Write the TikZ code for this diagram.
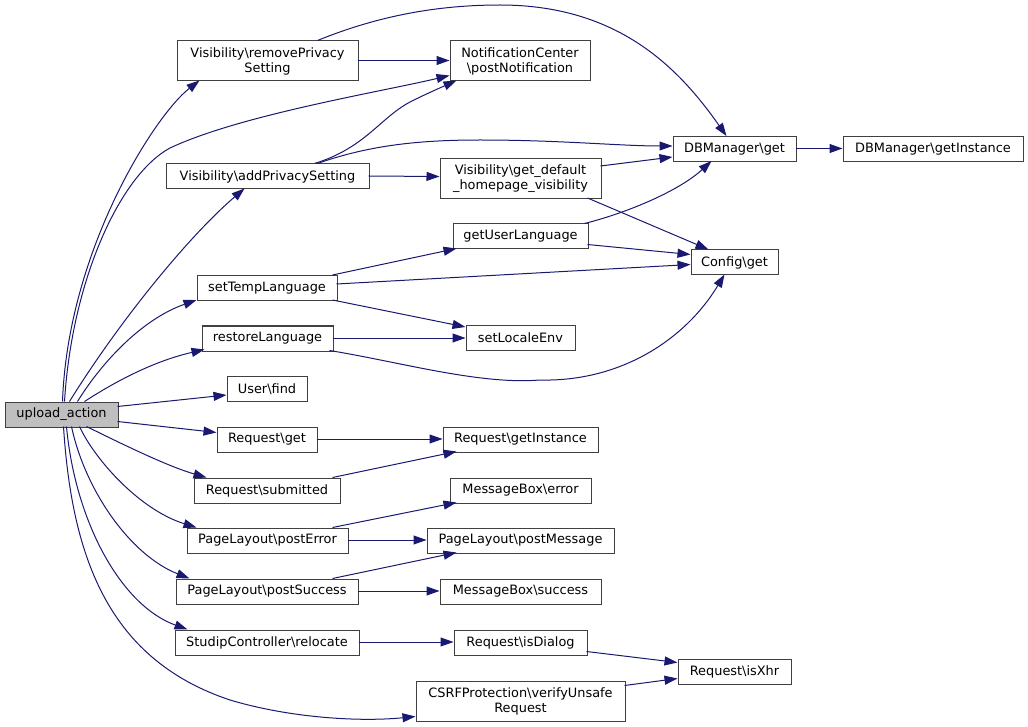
\documentclass[tikz,border=0pt]{standalone}
\usepackage{fontspec}
\setmainfont{DejaVu Sans}
\usetikzlibrary{arrows.meta}
\definecolor{edgec}{HTML}{191970}
\definecolor{boxc}{HTML}{404040}
\definecolor{mainfill}{HTML}{BFBFBF}
\tikzset{
  box/.style={draw=boxc, line width=1pt, fill=white, inner sep=0pt, align=center,
    font=\fontsize{12.9}{15}\selectfont},
  edge/.style={draw=edgec, line width=1pt, -{Triangle[length=13pt,width=9pt]}}
}
\newcommand{\bs}{\textbackslash}
\begin{document}
\begin{tikzpicture}[x=1pt,y=-1pt]
\useasboundingbox (0,0) rectangle (1028,727);
% nodes
\node[box, fill=mainfill, minimum width=113pt, minimum height=25pt] (ua) at (61.5,414.5) {upload\_action};
\node[box, minimum width=181pt, minimum height=40pt] (rps) at (267.5,61) {Visibility\bs removePrivacy\\Setting};
\node[box, minimum width=203pt, minimum height=25pt] (aps) at (267.5,176.5) {Visibility\bs addPrivacySetting};
\node[box, minimum width=140pt, minimum height=40pt] (pn) at (520,61) {NotificationCenter\\\bs postNotification};
\node[box, minimum width=123pt, minimum height=25pt] (dbg) at (734.5,149) {DBManager\bs get};
\node[box, minimum width=180pt, minimum height=25pt] (dbgi) at (933,149) {DBManager\bs getInstance};
\node[box, minimum width=161pt, minimum height=40pt] (gdh) at (520.5,178.5) {Visibility\bs get\_default\\\_homepage\_visibility};
\node[box, minimum width=135pt, minimum height=25pt] (gul) at (520.5,236.5) {getUserLanguage};
\node[box, minimum width=87pt, minimum height=25pt] (cfg) at (734.5,262.5) {Config\bs get};
\node[box, minimum width=140pt, minimum height=25pt] (stl) at (267,288) {setTempLanguage};
\node[box, minimum width=131pt, minimum height=25pt] (rl) at (267.5,338.5) {restoreLanguage};
\node[box, minimum width=80pt, minimum height=25pt] (uf) at (267,389) {User\bs find};
\node[box, minimum width=100pt, minimum height=25pt] (rg) at (267,439.5) {Request\bs get};
\node[box, minimum width=146pt, minimum height=25pt] (rs) at (267,490.5) {Request\bs submitted};
\node[box, minimum width=109pt, minimum height=25pt] (sle) at (520.5,338) {setLocaleEnv};
\node[box, minimum width=155pt, minimum height=25pt] (rgi) at (520.5,439.5) {Request\bs getInstance};
\node[box, minimum width=141pt, minimum height=25pt] (mbe) at (520.5,490.5) {MessageBox\bs error};
\node[box, minimum width=161pt, minimum height=25pt] (pe) at (267.5,540.5) {PageLayout\bs postError};
\node[box, minimum width=182pt, minimum height=25pt] (ps) at (267,591.5) {PageLayout\bs postSuccess};
\node[box, minimum width=184pt, minimum height=25pt] (sr) at (267,642.5) {StudipController\bs relocate};
\node[box, minimum width=187pt, minimum height=25pt] (pm) at (520.5,540.5) {PageLayout\bs postMessage};
\node[box, minimum width=161pt, minimum height=25pt] (mbs) at (520.5,591.5) {MessageBox\bs success};
\node[box, minimum width=133pt, minimum height=25pt] (rid) at (520.5,642.5) {Request\bs isDialog};
\node[box, minimum width=113pt, minimum height=25pt] (rx) at (734.5,671.5) {Request\bs isXhr};
\node[box, minimum width=209pt, minimum height=40pt] (csrf) at (520.5,701) {CSRFProtection\bs verifyUnsafe\\Request};
% edges from upload_action
\draw[edge] ([shift={(58,0)}]ua.north west) .. controls (68,250) and (155,115) .. ([shift={(23,40)}]rps.north west);
\draw[edge] ([shift={(60,0)}]ua.north west) .. controls (72,280) and (120,175) .. (170,148) .. controls (240,115) and (380,92) .. ([shift={(0,35)}]pn.north west);
\draw[edge] ([shift={(65,0)}]ua.north west) .. controls (120,320) and (190,235) .. ([shift={(79,25)}]aps.north west);
\draw[edge] ([shift={(73,0)}]ua.north west) .. controls (100,365) and (140,320) .. ([shift={(0,25)}]stl.north west);
\draw[edge] ([shift={(80,0)}]ua.north west) .. controls (110,385) and (150,362) .. ([shift={(3,24)}]rl.north west);
\draw[edge] ([shift={(113,5)}]ua.north west) -- ([shift={(0,19)}]uf.north west);
\draw[edge] ([shift={(113,20)}]ua.north west) -- ([shift={(0,6)}]rg.north west);
\draw[edge] ([shift={(82,25)}]ua.north west) .. controls (130,448) and (170,467) .. ([shift={(13,0)}]rs.north west);
\draw[edge] ([shift={(75,25)}]ua.north west) .. controls (95,460) and (140,510) .. ([shift={(10,0)}]pe.north west);
\draw[edge] ([shift={(67,25)}]ua.north west) .. controls (85,490) and (130,555) .. ([shift={(14,0)}]ps.north west);
\draw[edge] ([shift={(62,25)}]ua.north west) .. controls (75,520) and (120,605) .. ([shift={(13,0)}]sr.north west);
\draw[edge] ([shift={(59,25)}]ua.north west) .. controls (72,560) and (110,660) .. (230,700) .. controls (290,718) and (360,722) .. ([shift={(0,36)}]csrf.north west);
% second level
\draw[edge] ([shift={(181,20)}]rps.north west) -- ([shift={(0,20)}]pn.north west);
\draw[edge] ([shift={(141,0)}]rps.north west) .. controls (380,15) and (440,5) .. (500,5) .. controls (620,5) and (680,70) .. ([shift={(54,0)}]dbg.north west);
\draw[edge] ([shift={(149,0)}]aps.north west) .. controls (365,148) and (380,118) .. (410,102) .. controls (428,93) and (442,87) .. ([shift={(7,40)}]pn.north west);
\draw[edge] ([shift={(152,0)}]aps.north west) .. controls (370,145) and (420,140) .. (480,140) .. controls (560,140) and (620,146) .. ([shift={(0,10)}]dbg.north west);
\draw[edge] ([shift={(203,12.5)}]aps.north west) -- ([shift={(0,18.5)}]gdh.north west);
\draw[edge] ([shift={(161,8)}]gdh.north west) -- ([shift={(0,21)}]dbg.north west);
\draw[edge] ([shift={(148,40)}]gdh.north west) -- ([shift={(18,0)}]cfg.north west);
\draw[edge] ([shift={(132,0)}]gul.north west) .. controls (630,212) and (680,190) .. ([shift={(39,25)}]dbg.north west);
\draw[edge] ([shift={(135,21)}]gul.north west) -- ([shift={(0,5)}]cfg.north west);
\draw[edge] ([shift={(136,0)}]stl.north west) -- ([shift={(4,25)}]gul.north west);
\draw[edge] ([shift={(140,9)}]stl.north west) -- ([shift={(0,15)}]cfg.north west);
\draw[edge] ([shift={(136,25)}]stl.north west) -- ([shift={(0,2)}]sle.north west);
\draw[edge] ([shift={(131,12.5)}]rl.north west) -- ([shift={(0,13)}]sle.north west);
\draw[edge] ([shift={(128,25)}]rl.north west) .. controls (400,362) and (480,385) .. (540,380) .. controls (620,382) and (685,340) .. ([shift={(34,25)}]cfg.north west);
\draw[edge] ([shift={(100,12.5)}]rg.north west) -- ([shift={(0,12.5)}]rgi.north west);
\draw[edge] ([shift={(139,0)}]rs.north west) -- ([shift={(14,25)}]rgi.north west);
\draw[edge] ([shift={(146,0)}]pe.north west) -- ([shift={(7,25)}]mbe.north west);
\draw[edge] ([shift={(161,12.5)}]pe.north west) -- ([shift={(0,12.5)}]pm.north west);
\draw[edge] ([shift={(157,0)}]ps.north west) -- ([shift={(30,25)}]pm.north west);
\draw[edge] ([shift={(182,12.5)}]ps.north west) -- ([shift={(0,12.5)}]mbs.north west);
\draw[edge] ([shift={(184,12.5)}]sr.north west) -- ([shift={(0,12.5)}]rid.north west);
\draw[edge] ([shift={(133,22)}]rid.north west) -- ([shift={(0,4)}]rx.north west);
\draw[edge] ([shift={(209,5)}]csrf.north west) -- ([shift={(0,20)}]rx.north west);
\draw[edge] ([shift={(123,12.5)}]dbg.north west) -- ([shift={(0,12.5)}]dbgi.north west);
\end{tikzpicture}
\end{document}
